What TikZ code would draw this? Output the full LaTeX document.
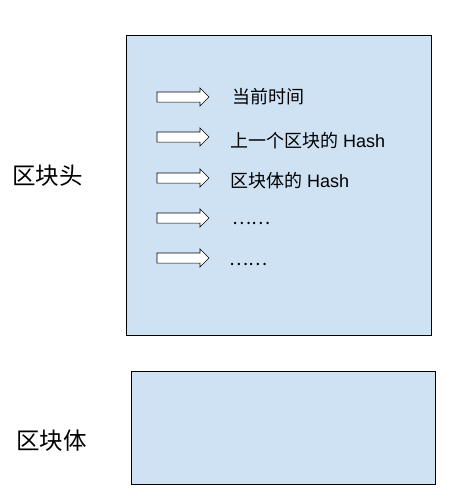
\documentclass[tikz,border=0pt]{standalone}
\usepackage{fontspec}
\setmainfont{Liberation Sans}
\newfontfamily\cjk{Noto Sans CJK SC}
\usetikzlibrary{shapes.arrows}
\definecolor{blockblue}{HTML}{CFE2F3}
\tikzset{
  block/.style={draw=black, fill=blockblue, line width=0.8pt, inner sep=0pt},
  fieldarrow/.style={single arrow, draw=black, fill=white, line width=0.6pt,
    inner xsep=0pt, inner ysep=4.75pt, minimum height=52pt,
    single arrow head extend=4pt},
  field/.style={anchor=west, inner sep=0pt, font=\fontsize{18}{21}\selectfont},
  label/.style={inner sep=0pt, font=\cjk\fontsize{23.5}{27}\selectfont}
}
\begin{document}
\begin{tikzpicture}[x=1pt, y=-1pt]
    \useasboundingbox (0,0) rectangle (456,503);
    \node[block, minimum width=305pt, minimum height=300pt] (header) at (278.5,185) {};
    \node[block, minimum width=304pt, minimum height=113pt] (body) at (283,427.5) {};
    \node[label] (headerlabel) at (47.5,176) {区块头};
    \node[label] (bodylabel) at (51.5,441) {区块体};
    \node[fieldarrow] (arrow1) at (180.5,97) {};
    \node[fieldarrow] (arrow2) at (180.5,137) {};
    \node[fieldarrow] (arrow3) at (180.5,178) {};
    \node[fieldarrow] (arrow4) at (180.5,218) {};
    \node[fieldarrow] (arrow5) at (180.5,258) {};
    \node[field] (time) at (232,97) {\cjk 当前时间};
    \node[field] (prevhash) at (230,141) {{\cjk 上一个区块的} Hash};
    \node[field] (bodyhash) at (230,181) {{\cjk 区块体的} Hash};
    \node[field] (more1) at (232,223) {\cjk ……};
    \node[field] (more2) at (229,264.5) {\cjk ……};
  \end{tikzpicture}
\end{document}
